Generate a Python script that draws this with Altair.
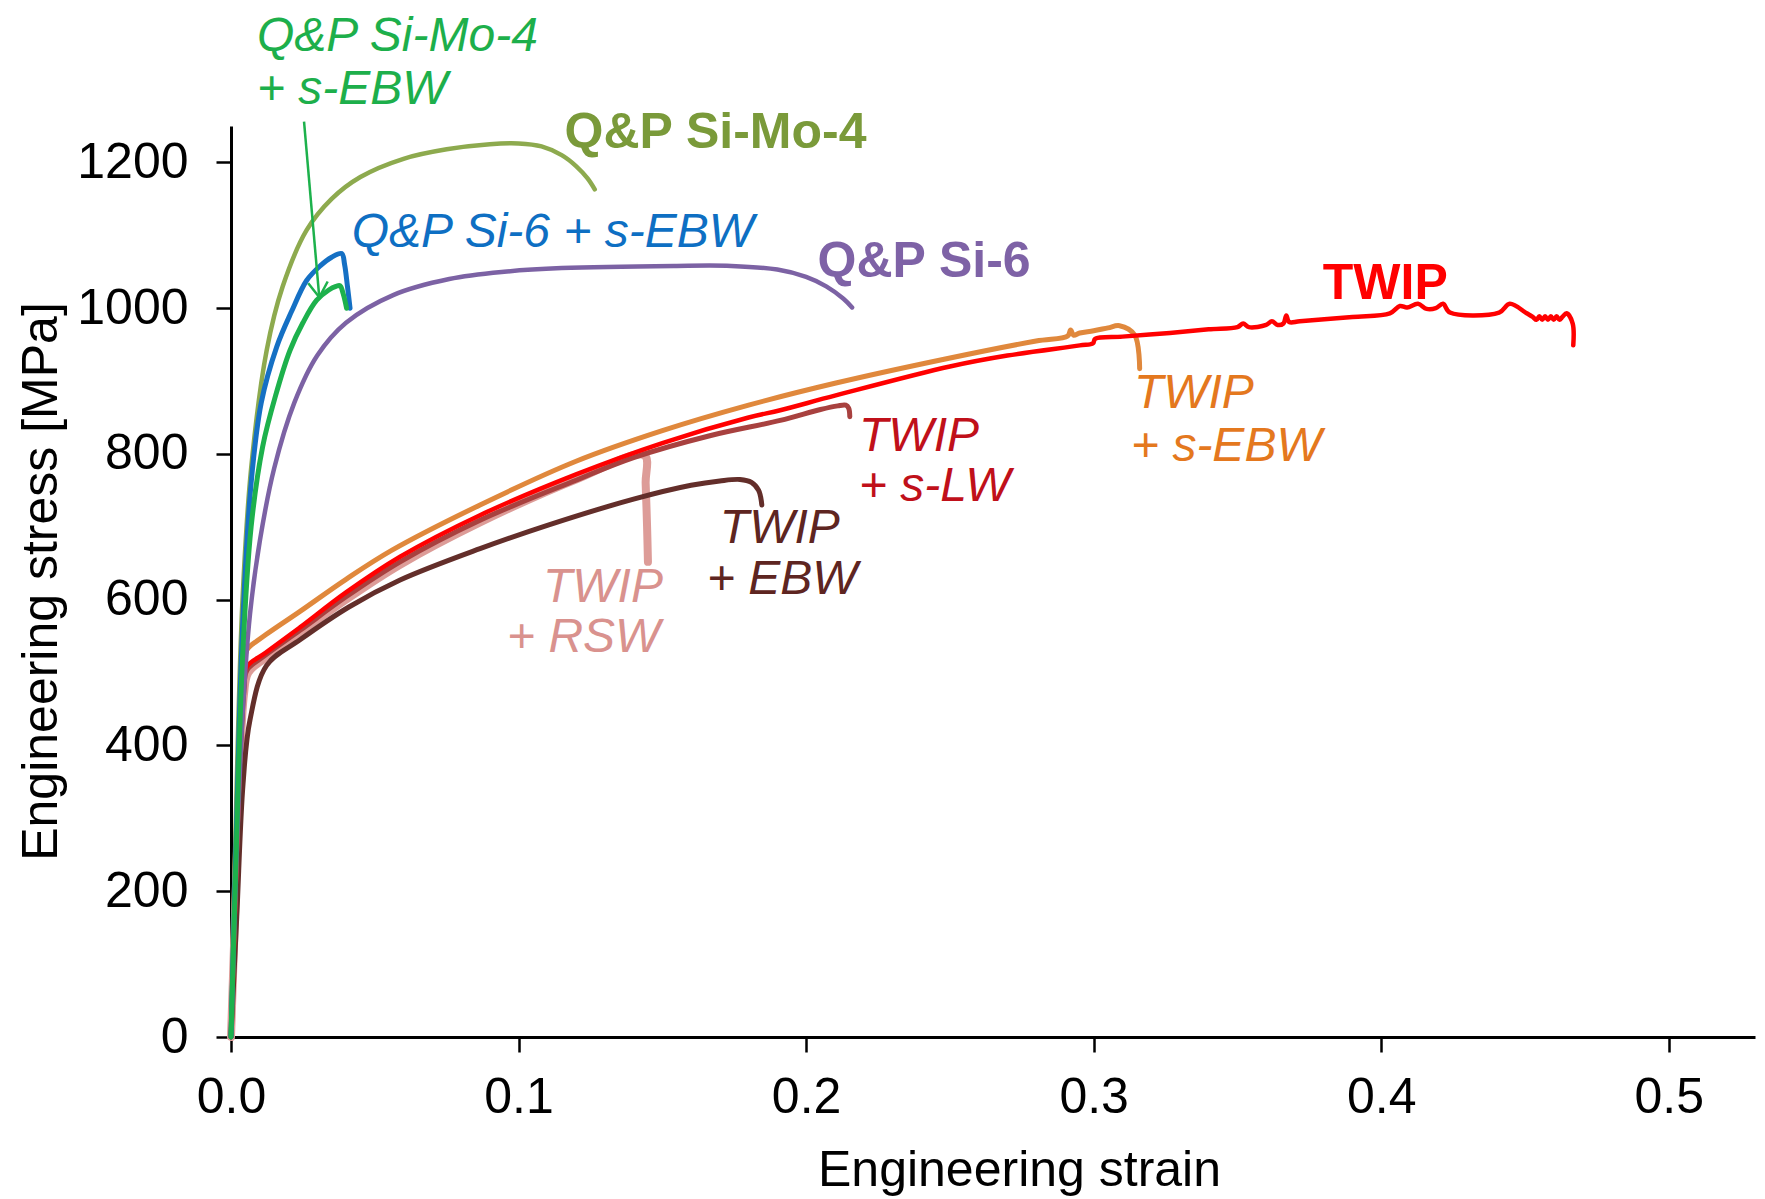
import altair as alt
import pandas as pd

# ---------------- data ----------------
simo4_strain = [0, 0.002, 0.004, 0.007, 0.0124, 0.018, 0.0263, 0.035, 0.045, 0.06, 0.075, 0.09, 0.1, 0.108, 0.115, 0.12, 0.124, 0.1265]
simo4_stress = [0, 350, 600, 780, 942, 1030, 1107, 1150, 1180, 1205, 1218, 1225, 1226, 1222, 1210, 1195, 1178, 1163]

simo4_ebw_strain = [0, 0.002, 0.004, 0.007, 0.011, 0.0155, 0.0205, 0.025, 0.0298, 0.034, 0.0365, 0.0379, 0.039, 0.0402]
simo4_ebw_stress = [0, 280, 520, 700, 810, 880, 942, 980, 1011, 1025, 1030, 1031, 1020, 1000]

si6_ebw_strain = [0, 0.002, 0.004, 0.007, 0.0105, 0.0159, 0.021, 0.0263, 0.031, 0.035, 0.0385, 0.0395, 0.0405, 0.0414]
si6_ebw_stress = [0, 300, 560, 760, 870, 947, 995, 1038, 1058, 1070, 1075, 1060, 1030, 1000]

si6_strain = [0, 0.002, 0.004, 0.0066, 0.01, 0.015, 0.022, 0.03, 0.04, 0.0564, 0.0759, 0.095, 0.115, 0.154, 0.174, 0.19, 0.2, 0.207, 0.213, 0.216]
si6_stress = [0, 250, 440, 580, 680, 780, 870, 935, 980, 1018, 1040, 1050, 1055, 1058, 1058, 1053, 1043, 1030, 1013, 1001]

twip_sebw_strain = [0, 0.0015, 0.003, 0.0045, 0.0055, 0.01, 0.024, 0.04, 0.056, 0.0866, 0.12, 0.15, 0.18, 0.21, 0.248, 0.28, 0.291, 0.292, 0.293, 0.2952, 0.30, 0.305, 0.309, 0.3143, 0.316]
twip_sebw_stress = [0, 200, 380, 500, 531, 546, 584, 628, 668, 730, 790, 832, 867, 897, 930, 955, 962, 970, 963, 966, 969, 973, 976, 963, 917]

twip_strain = [0, 0.0015, 0.003, 0.0045, 0.0055, 0.012, 0.024, 0.04, 0.0588, 0.0866, 0.12, 0.15, 0.18, 0.191, 0.21, 0.25, 0.27, 0.2952,
               0.2998, 0.3005, 0.31, 0.3265, 0.34, 0.35, 0.352, 0.354, 0.36, 0.362, 0.364, 0.366, 0.367, 0.368, 0.3717, 0.39, 0.403,
               0.4065, 0.409, 0.4128, 0.4158, 0.419, 0.4215, 0.4239, 0.441, 0.4447, 0.4506, 0.4527, 0.454, 0.455, 0.456, 0.457, 0.458,
               0.459, 0.460, 0.461, 0.462, 0.463, 0.4645, 0.4666, 0.4668]
twip_stress = [0, 190, 370, 480, 508, 527, 562, 610, 659, 716, 772, 815, 850, 860, 880, 920, 935, 949,
               952, 958, 961, 966, 971, 974, 979, 974, 977, 982, 977, 979, 990, 981, 982, 988, 993,
               1003, 1001, 1006, 999, 1000, 1006, 994, 994, 1006, 993, 988, 984, 989, 984, 989, 984,
               989, 984, 989, 984, 988, 993, 979, 949]

twip_slw_strain = [0, 0.0015, 0.003, 0.0045, 0.0055, 0.012, 0.024, 0.04, 0.0588, 0.0866, 0.12, 0.14, 0.1665, 0.191, 0.205, 0.211, 0.2138, 0.2148, 0.2152]
twip_slw_stress = [0, 185, 365, 475, 503, 524, 558, 604, 652, 709, 764, 795, 825, 846, 861, 866, 867, 863, 851]

twip_ebw_strain = [0, 0.002, 0.0042, 0.0066, 0.0124, 0.024, 0.041, 0.0588, 0.0866, 0.11, 0.14, 0.16, 0.17, 0.177, 0.181, 0.1835, 0.1846]
twip_ebw_stress = [0, 165, 348, 435, 510, 545, 590, 627, 670, 702, 738, 757, 763, 765, 761, 750, 730]

twip_rsw_strain = [0, 0.0015, 0.003, 0.0045, 0.006, 0.012, 0.024, 0.04, 0.0588, 0.0866, 0.12, 0.1438, 0.1442, 0.1447, 0.145]
twip_rsw_stress = [0, 180, 360, 470, 500, 520, 555, 600, 648, 706, 765, 798, 760, 700, 652]

arrow_strain = [0.0254, 0.0307]
arrow_stress = [1256, 1015]

x_ticks = [0.0, 0.1, 0.2, 0.3, 0.4, 0.5]
y_ticks = [0, 200, 400, 600, 800, 1000, 1200]

label_text = ["Q&P Si-Mo-4", "+ s-EBW", "Q&P Si-6 + s-EBW", "TWIP", "+ s-EBW", "TWIP", "+ s-LW", "TWIP", "+ EBW", "TWIP", "+ RSW"]
label_strain = [0.009, 0.009, 0.042, 0.314, 0.313, 0.2184, 0.2184, 0.170, 0.1655, 0.1085, 0.096]
label_stress = [1372, 1300, 1103, 882, 809, 823, 754, 697, 627, 616, 547]
label_color = ["#1DAF4B", "#1DAF4B", "#0E6FC3", "#E4781E", "#E4781E", "#C0101A", "#C0101A", "#5E2521", "#5E2521", "#D9928E", "#D9928E"]

bold_text = ["Q&P Si-Mo-4", "Q&P Si-6", "TWIP"]
bold_strain = [0.116, 0.204, 0.3797]
bold_stress = [1240, 1064, 1033]
bold_color = ["#7A9A3A", "#7E62A6", "#FF0000"]

# ---------------- chart ----------------
FONT = "Liberation Sans"

xscale = alt.Scale(domain=[0, 0.53], nice=False, zero=True)
yscale = alt.Scale(domain=[0, 1250], nice=False, zero=True)

x_axis = alt.Axis(values=x_ticks, format=".1f", title="Engineering strain", grid=False,
                  domainColor="black", domainWidth=3, tickColor="black", tickWidth=2.5, tickSize=15,
                  labelFont=FONT, labelFontSize=50, labelColor="black", labelPadding=20, labelFlush=False,
                  titleFont=FONT, titleFontSize=50, titleFontWeight="normal", titleColor="black",
                  titleX=788, titleY=148, titleBaseline="alphabetic", titleAlign="center")
y_axis = alt.Axis(values=y_ticks, format="d", title="Engineering stress [MPa]", grid=False,
                  domainColor="black", domainWidth=3, tickColor="black", tickWidth=2.5, tickSize=15,
                  labelFont=FONT, labelFontSize=50, labelColor="black", labelPadding=28, labelFlush=False,
                  titleFont=FONT, titleFontSize=50, titleFontWeight="normal", titleColor="black",
                  titleX=-175, titleY=455, titleAngle=270, titleBaseline="alphabetic", titleAlign="center")


def curve(strain, stress, color, width):
    df = pd.DataFrame({"strain": strain, "stress": stress, "i": range(len(strain))})
    return alt.Chart(df).mark_line(color=color, strokeWidth=width, strokeCap="round", strokeJoin="round",
                                   interpolate="catmull-rom", clip=False).encode(
        x=alt.X("strain:Q", scale=xscale, axis=x_axis),
        y=alt.Y("stress:Q", scale=yscale, axis=y_axis),
        order=alt.Order("i:Q"),
    )


layers = [
    curve(twip_rsw_strain, twip_rsw_stress, "#DD9C98", 8),
    curve(twip_slw_strain, twip_slw_stress, "#A8413F", 5),
    curve(twip_ebw_strain, twip_ebw_stress, "#632E2A", 5),
    curve(twip_sebw_strain, twip_sebw_stress, "#E0883C", 5),
    curve(twip_strain, twip_stress, "#FF0000", 4.5),
    curve(si6_strain, si6_stress, "#7C62A4", 4.5),
    curve(simo4_strain, simo4_stress, "#8DAA4E", 4.5),
    curve(si6_ebw_strain, si6_ebw_stress, "#1570C4", 5),
    curve(simo4_ebw_strain, simo4_ebw_stress, "#1DB14C", 5),
]

arrow_df = pd.DataFrame({"strain": arrow_strain, "stress": arrow_stress, "i": [0, 1]})
arrow_line = alt.Chart(arrow_df).mark_line(color="#1DB14C", strokeWidth=2.5, clip=False).encode(
    x=alt.X("strain:Q", scale=xscale, axis=x_axis),
    y=alt.Y("stress:Q", scale=yscale, axis=y_axis),
    order=alt.Order("i:Q"),
)
arrow_head = alt.Chart(arrow_df.iloc[[1]]).mark_point(
    shape="M-0.65,-1L0,0L0.65,-1", filled=False, color="#1DB14C", strokeWidth=2.5, size=900, angle=355, opacity=1, clip=False
).encode(
    x=alt.X("strain:Q", scale=xscale, axis=x_axis),
    y=alt.Y("stress:Q", scale=yscale, axis=y_axis),
)

lab_df = pd.DataFrame({"text": label_text, "strain": label_strain, "stress": label_stress, "color": label_color})
labels = alt.Chart(lab_df).mark_text(font=FONT, fontSize=48, fontStyle="italic", align="left", baseline="middle", clip=False).encode(
    x=alt.X("strain:Q", scale=xscale, axis=x_axis),
    y=alt.Y("stress:Q", scale=yscale, axis=y_axis),
    text="text:N",
    color=alt.Color("color:N", scale=None),
)

bold_df = pd.DataFrame({"text": bold_text, "strain": bold_strain, "stress": bold_stress, "color": bold_color})
bold_labels = alt.Chart(bold_df).mark_text(font=FONT, fontSize=50, fontWeight="bold", align="left", baseline="middle", clip=False).encode(
    x=alt.X("strain:Q", scale=xscale, axis=x_axis),
    y=alt.Y("stress:Q", scale=yscale, axis=y_axis),
    text="text:N",
    color=alt.Color("color:N", scale=None),
)

chart = alt.layer(*layers, arrow_line, arrow_head, labels, bold_labels).properties(
    width=1524,
    height=911,
    autosize=alt.AutoSizeParams(type="none"),
    padding={"left": 223, "top": 118, "right": 2, "bottom": 160},
    background="white",
).configure_view(stroke=None)

chart.save("out.html", embed_options={"renderer": "svg", "actions": False})
